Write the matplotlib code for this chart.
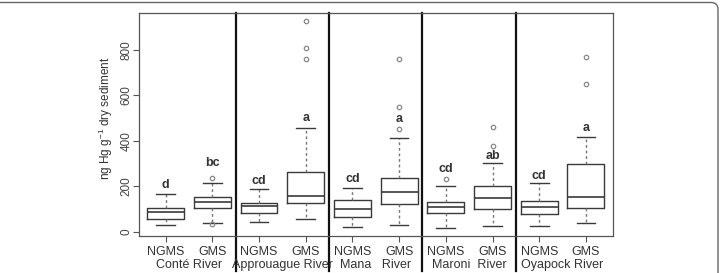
import numpy as np
import matplotlib
matplotlib.use('Agg')
import matplotlib.pyplot as plt
from matplotlib.patches import FancyBboxPatch

plt.rcParams['font.family'] = ['Liberation Sans', 'DejaVu Sans']
plt.rcParams['mathtext.fontset'] = 'custom'
plt.rcParams['mathtext.rm'] = 'Liberation Sans'
plt.rcParams['mathtext.it'] = 'Liberation Sans'

# ---------- data ----------
rivers = ['Conté River', 'Approuague River', 'Mana   River', 'Maroni  River', 'Oyapock River']
sites = ['NGMS', 'GMS'] * 5

whisk_lo = [31, 40, 45, 56, 23, 31, 16, 28, 28, 38]
q1 = [56, 107, 85, 127, 67, 123, 82, 101, 78, 107]
med = [87, 130, 114, 160, 100, 176, 108, 151, 108, 155]
q3 = [105, 153, 129, 262, 141, 236, 132, 204, 136, 299]
whisk_hi = [168, 217, 189, 459, 195, 412, 204, 302, 214, 416]
outliers = [[], [239, 37], [], [759, 807, 927], [], [451, 551, 759],
            [231], [378, 463], [], [649, 771]]

letters = ['d', 'bc', 'cd', 'a', 'cd', 'a', 'cd', 'ab', 'cd', 'a']
letter_y = [207, 303, 222, 500, 231, 495, 275, 332, 246, 455]

# ---------- plot ----------
fig = plt.figure(figsize=(7.2, 2.73), dpi=100)
ax = fig.add_axes([139 / 720, 1 - 236 / 273, (613 - 139) / 720, 223 / 273])

stats = []
for i in range(10):
    stats.append(dict(whislo=whisk_lo[i], q1=q1[i], med=med[i], q3=q3[i],
                      whishi=whisk_hi[i], fliers=outliers[i]))

pos = np.arange(1, 11)
lc = '#3a3a3a'
ax.bxp(stats, positions=pos, widths=0.79, showfliers=True,
       boxprops=dict(color=lc, lw=1.0),
       medianprops=dict(color=lc, lw=1.2),
       whiskerprops=dict(color='#777777', lw=1.0, linestyle=(0, (2, 2))),
       capprops=dict(color=lc, lw=1.0),
       capwidths=0.4,
       flierprops=dict(marker='o', markersize=3.2, markerfacecolor='none',
                       markeredgecolor='#888888', markeredgewidth=0.9))

for p, t, y in zip(pos, letters, letter_y):
    ax.text(p, y, t, ha='center', va='center', fontsize=9, fontweight='bold', color='#333333')

# dividers between rivers
for x in [2.5, 4.5, 6.5, 8.5]:
    ax.axvline(x, ymin=-0.155, ymax=1, color='#111111', lw=1.6, clip_on=False)

ax.set_xlim(0.43, 10.58)
ax.set_ylim(-17.6, 962.6)
ax.set_yticks([0, 200, 400, 600, 800])
ax.set_yticklabels(['0', '200', '400', '600', '800'], rotation=90, va='center', fontsize=8.5, color='#444444')
ax.set_xticks(pos)
ax.set_xticklabels(sites, fontsize=9, color='#333333')
ax.tick_params(axis='y', length=4, color='#555555', pad=0.5)
ax.tick_params(axis='x', length=4, color='#555555', pad=3)

for i, r in enumerate(rivers):
    ax.text(2 * i + 1.5, -0.13, r, transform=ax.get_xaxis_transform(),
            ha='center', va='center', fontsize=9, color='#333333')

ax.set_ylabel('ng Hg g$^{-1}$ dry sediment', fontsize=8.5, color='#333333')
ax.yaxis.set_label_coords(-0.051, 0.53)

for s in ax.spines.values():
    s.set_color('#555555')
    s.set_linewidth(0.9)

# outer frame of the picture
frame = FancyBboxPatch((-20, -20), 738, 290.5, boxstyle='round,pad=0,rounding_size=7',
                       transform=None, fill=False, edgecolor='#666666', lw=1.0)
fig.patches.append(frame)

fig.savefig('out.png', dpi=100)
